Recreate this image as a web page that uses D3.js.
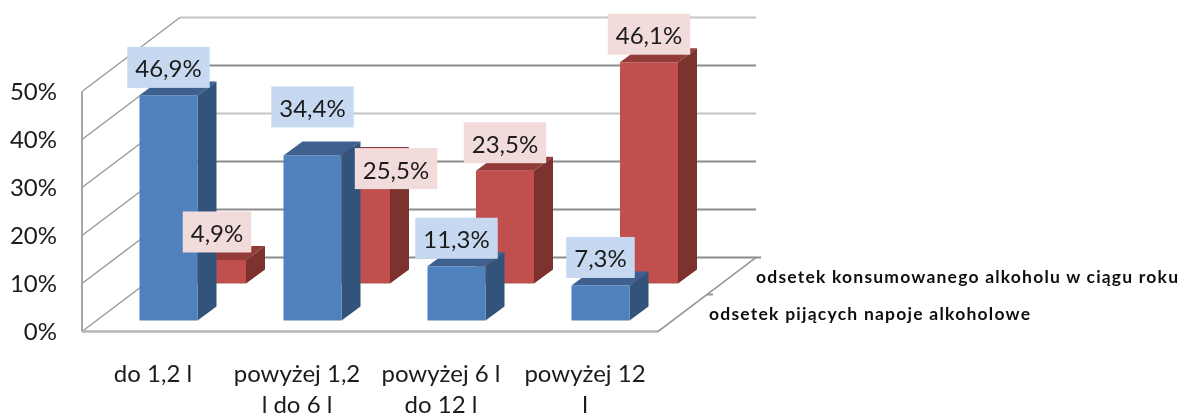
<!DOCTYPE html>
<html><head><meta charset="utf-8">
<script src="https://cdn.jsdelivr.net/npm/d3@7"></script>
<style>html,body{margin:0;padding:0;background:#fff}svg{display:block}</style>
</head><body><svg id="c" width="1182" height="414"></svg>
<script>
const categories = [["do 1,2 l"],["powyżej 1,2","l do 6 l"],["powyżej 6 l","do 12 l"],["powyżej 12","l"]];
const seriesNames = ["odsetek pijących napoje alkoholowe","odsetek konsumowanego alkoholu w ciągu roku"];
const drinkers = [46.9,34.4,11.3,7.3];
const consumed = [4.9,25.5,23.5,46.1];
const yTicks = [0,10,20,30,40,50];

const svg=d3.select("#c");
const defs=svg.append("defs");
defs.append("filter").attr("id","soft").attr("x","-5%").attr("y","-5%").attr("width","110%").attr("height","110%")
  .append("feGaussianBlur").attr("stdDeviation",0.5);
const FONT="Lato, Carlito, sans-serif";
const FS=24;
const y=d3.scaleLinear().domain([0,50]).range([331.5,91.5]);
const x=d3.scalePoint().domain(d3.range(4)).range([153,585]);
const wall={dx:98,dy:-74}, floorRight=658, axisLeft=82;
const root=svg.append("g").attr("filter","url(#soft)");

// gridlines on side wall & back wall
const gridCol=t=>(t===50||t===30)?"#c4c4c4":"#8c8c8c";
const grid=root.append("g");
yTicks.forEach(t=>{
  const py=y(t);
  grid.append("line").attr("x1",axisLeft).attr("y1",py).attr("x2",axisLeft+wall.dx).attr("y2",py+wall.dy)
    .attr("stroke","#999").attr("stroke-width",1.4);
  grid.append("line").attr("x1",axisLeft+wall.dx).attr("y1",py+wall.dy).attr("x2",floorRight+wall.dx+(t===0?5:0)).attr("y2",py+wall.dy)
    .attr("stroke",gridCol(t)).attr("stroke-width",2);
});
// axes frame
grid.append("line").attr("x1",axisLeft).attr("y1",y(0)).attr("x2",axisLeft).attr("y2",y(50)).attr("stroke","#a6a6a6").attr("stroke-width",2);
grid.append("line").attr("x1",axisLeft).attr("y1",y(0)).attr("x2",floorRight).attr("y2",y(0)).attr("stroke","#b4b4b4").attr("stroke-width",2.4);
grid.append("line").attr("x1",floorRight).attr("y1",y(0)).attr("x2",floorRight+wall.dx).attr("y2",y(0)+wall.dy).attr("stroke","#999").attr("stroke-width",1.6);
grid.append("line").attr("x1",floorRight+49).attr("y1",y(0)+wall.dy/2).attr("x2",floorRight+55).attr("y2",y(0)+wall.dy/2).attr("stroke","#999").attr("stroke-width",2);

// bars
const barW=58, depthX=19, depthY=-14;
const specs=[
 {vals:consumed,shift:64,base:-48,face:"#c0504d",side:"#7b302e",top:"#933b39",lab:"#f2dcdb"},
 {vals:drinkers,shift:15.5,base:-11,face:"#4f81bd",side:"#32527a",top:"#3c618f",lab:"#c6d9f1"}
];
const pts=a=>a.map(p=>p.join(",")).join(" ");
specs.forEach(s=>{
  const g=root.append("g");
  s.vals.forEach((v,i)=>{
    const l=x(i)+s.shift-barW/2, r=l+barW, t=y(v)+s.base, b=y(0)+s.base;
    g.append("polygon").attr("fill",s.side).attr("points",pts([[r,t],[r+depthX,t+depthY],[r+depthX,b+depthY],[r,b]]));
    g.append("polygon").attr("fill",s.top).attr("points",pts([[l,t],[l+depthX,t+depthY],[r+depthX,t+depthY],[r,t]]));
    g.append("rect").attr("x",l).attr("y",t).attr("width",barW).attr("height",b-t).attr("fill",s.face);
  });
});

// data labels
const fmt=v=>d3.format(".1f")(v).replace(".",",")+"%";
const labelNudge={"1-1":[0,-20.5],"0-1":[35,35.5]};
const labels=root.append("g");
specs.forEach((s,si)=>{
  s.vals.forEach((v,i)=>{
    const n=labelNudge[si+"-"+i]||[0,0];
    const cx=x(i)+s.shift+n[0], cy=y(v)+s.base-28+n[1];
    const g=labels.append("g");
    const rc=g.append("rect");
    const tx=g.append("text").attr("x",cx).attr("y",cy+0.5).attr("text-anchor","middle").attr("dominant-baseline","central")
      .attr("font-family",FONT).attr("font-size",FS).attr("fill","#1a1a1a").text(fmt(v));
    const w=tx.node().getComputedTextLength();
    rc.attr("x",cx-w/2-8).attr("y",cy-20.5).attr("width",w+16).attr("height",41).attr("fill",s.lab);
  });
});

// y axis
const yAxis=d3.axisLeft(y).tickValues(yTicks).tickSize(0).tickPadding(0).tickFormat(d=>d+"%");
const ya=root.append("g").attr("transform","translate(57,0.5)").call(yAxis);
ya.select(".domain").remove();
ya.selectAll("text").attr("font-family",FONT).attr("font-size",FS).attr("fill","#1a1a1a");

// category labels
const cat=root.append("g").attr("font-family",FONT).attr("font-size",FS).attr("fill","#1a1a1a").attr("text-anchor","middle");
categories.forEach((lines,i)=>lines.forEach((ln,j)=>{
  cat.append("text").attr("x",x(i)).attr("y",382+j*31).text(ln);
}));

// depth-axis (series) labels
const depthLabels=[{x:709,y:320,len:321},{x:756,y:283,len:422}];
seriesNames.forEach((n,i)=>{
  root.append("text").attr("x",depthLabels[i].x).attr("y",depthLabels[i].y)
    .attr("textLength",depthLabels[i].len).attr("lengthAdjust","spacing")
    .attr("font-family",FONT).attr("font-weight",700).attr("font-size",17.5).attr("fill","#111").text(n);
});
</script></body></html>
